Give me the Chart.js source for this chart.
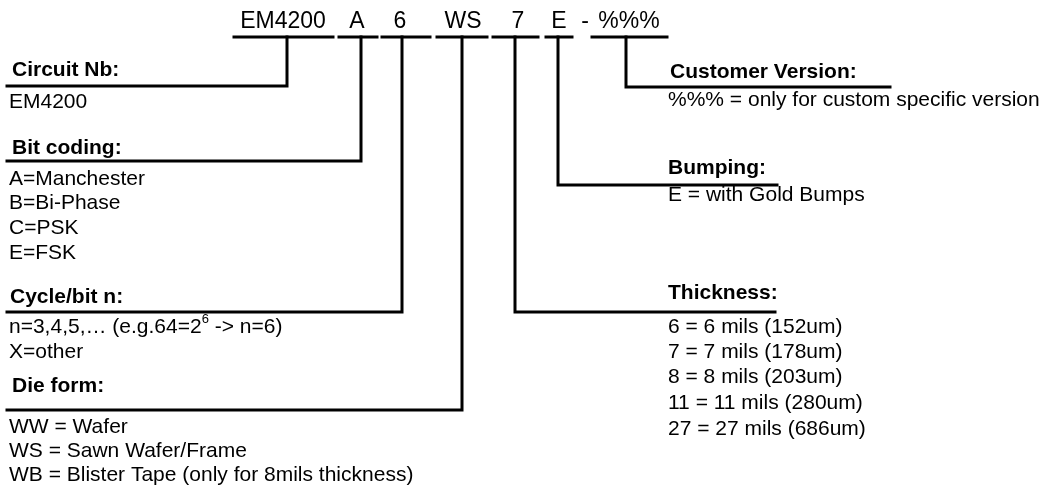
<!DOCTYPE html>
<html>
<head>
<meta charset="utf-8">
<script src="https://cdn.jsdelivr.net/npm/chart.js@4.4.1/dist/chart.umd.min.js"></script>
<style>
  html, body { margin: 0; padding: 0; background: #fff; }
  #wrap { width: 1051px; height: 486px; }
</style>
</head>
<body>
<div id="wrap"><canvas id="chart" width="1051" height="486"></canvas></div>
<script>
// order code parts, left to right
const codeParts = ['EM4200', 'A', '6', 'WS', '7', 'E', '%%%'];
const codeSeparators = ['-'];

// field titles and their value lines (same order as codeParts)
const fieldTitles = ['Circuit Nb:', 'Bit coding:', 'Cycle/bit n:', 'Die form:', 'Thickness:', 'Bumping:', 'Customer Version:'];
const circuitValues = ['EM4200'];
const bitCodingValues = ['A=Manchester', 'B=Bi-Phase', 'C=PSK', 'E=FSK'];
const cycleValues = ['n=3,4,5,\u2026 (e.g.64=2^6 -> n=6)', 'X=other'];
const dieFormValues = ['WW = Wafer', 'WS = Sawn Wafer/Frame', 'WB = Blister Tape (only for 8mils thickness)'];
const thicknessValues = ['6 = 6 mils (152um)', '7 = 7 mils (178um)', '8 = 8 mils (203um)', '11 = 11 mils (280um)', '27 = 27 mils (686um)'];
const bumpingValues = ['E = with Gold Bumps'];
const customerValues = ['%%% = only for custom specific version'];
const fieldValues = [circuitValues, bitCodingValues, cycleValues, dieFormValues, thicknessValues, bumpingValues, customerValues];

// diagram layout, in scale units (x 0..1051, y 0..486 top-down)
const underlineStart = [234, 339, 382, 437, 493, 546, 592];
const underlineEnd   = [333, 377, 430, 487, 538, 572, 667];
const stemX          = [287, 361, 402, 462, 515, 558, 626];
const stemY          = [86, 161, 312, 410, 312, 185, 87];
const branchEnd      = [7, 7, 7, 7, 775, 777, 890];
const codeTextX      = [283, 357, 400, 463, 518, 559, 629];
const separatorX     = [585];
const titleX         = [12, 12, 10, 12, 668, 668, 670];
const titleY         = [70, 148, 297, 386, 293, 168, 72];
const valueX         = [9, 9, 9, 9, 668, 668, 668];
const valueY         = [[102], [179, 203, 228, 253], [327, 352], [427, 451, 475], [327, 352, 377, 403, 429], [195], [100]];
const underlineY = 37;
const codeBaseline = 28;

const FONT = '"Liberation Sans", Arial, Helvetica, sans-serif';

// one polyline per connector: underline, then stem down and branch sideways
const datasets = [];
codeParts.forEach((part, i) => {
  datasets.push({
    label: part + ' underline',
    data: [{ x: underlineStart[i], y: underlineY }, { x: underlineEnd[i], y: underlineY }],
  });
  datasets.push({
    label: part + ' connector',
    data: [
      { x: stemX[i], y: underlineY },
      { x: stemX[i], y: stemY[i] },
      { x: branchEnd[i], y: stemY[i] },
    ],
  });
});
datasets.forEach(ds => {
  ds.showLine = true;
  ds.borderColor = '#000';
  ds.borderWidth = 3;
  ds.pointRadius = 0;
  ds.fill = false;
  ds.tension = 0;
  ds.borderJoinStyle = 'miter';
  ds.borderCapStyle = 'square';
});

// draw a text line, handling a ^n superscript
function drawRich(ctx, text, x, y, size) {
  const parts = text.split(/\^(\d+)/);
  let cx = x;
  parts.forEach((p, k) => {
    if (k % 2 === 1) {
      ctx.font = Math.round(size * 0.62) + 'px ' + FONT;
      ctx.fillText(p, cx, y - size * 0.38);
    } else {
      ctx.font = size + 'px ' + FONT;
      ctx.fillText(p, cx, y);
    }
    cx += ctx.measureText(p).width;
  });
}

const textPlugin = {
  id: 'diagramText',
  afterDatasetsDraw(chart) {
    const ctx = chart.ctx;
    const xs = chart.scales.x, ys = chart.scales.y;
    ctx.save();
    ctx.fillStyle = '#000';

    // top order code
    ctx.font = '23px ' + FONT;
    ctx.textAlign = 'center';
    ctx.textBaseline = 'alphabetic';
    codeParts.forEach((part, i) => {
      ctx.fillText(part, xs.getPixelForValue(codeTextX[i]), ys.getPixelForValue(codeBaseline));
    });
    codeSeparators.forEach((s, i) => {
      ctx.fillText(s, xs.getPixelForValue(separatorX[i]), ys.getPixelForValue(codeBaseline));
    });

    // field titles and values
    ctx.textAlign = 'left';
    ctx.textBaseline = 'middle';
    fieldTitles.forEach((t, i) => {
      ctx.font = 'bold 21px ' + FONT;
      ctx.fillText(t, xs.getPixelForValue(titleX[i]), ys.getPixelForValue(titleY[i]));
      fieldValues[i].forEach((v, j) => {
        drawRich(ctx, v, xs.getPixelForValue(valueX[i]), ys.getPixelForValue(valueY[i][j]), 21);
      });
    });
    ctx.restore();
  }
};

new Chart(document.getElementById('chart'), {
  type: 'scatter',
  data: { datasets },
  options: {
    responsive: false,
    animation: false,
    layout: { padding: 0 },
    plugins: { legend: { display: false }, tooltip: { enabled: false } },
    scales: {
      x: { type: 'linear', min: 0, max: 1051, display: false },
      y: { type: 'linear', min: 0, max: 486, reverse: true, display: false },
    },
  },
  plugins: [textPlugin],
});
</script>
</body>
</html>
